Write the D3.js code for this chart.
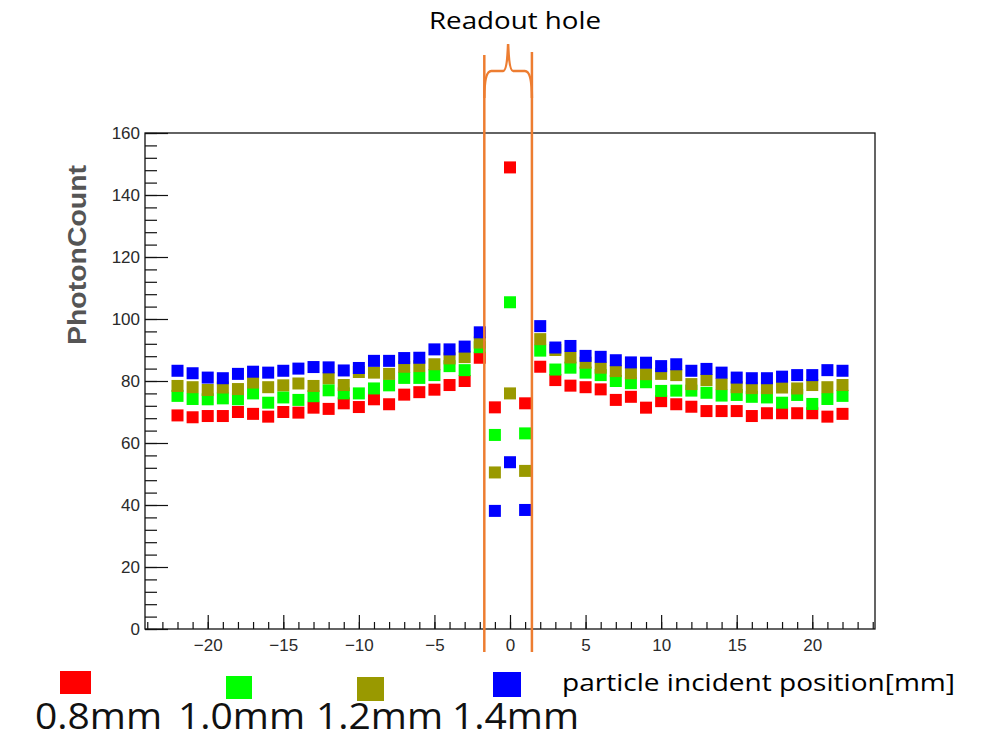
<!DOCTYPE html>
<html>
<head>
<meta charset="utf-8">
<script src="https://cdn.jsdelivr.net/npm/d3@7"></script>
<style>
  body { margin: 0; background: #fff; }
  svg { display: block; }
</style>
</head>
<body>
<div id="vis"></div>
<script>
// plot box (ROOT style frame)
const W = 986, H = 740;
const margin = { top: 133, right: 111, bottom: 111, left: 145 };
const width = W - margin.left - margin.right;
const height = H - margin.top - margin.bottom;

// incident positions [mm]
const positions = [-22, -21, -20, -19, -18, -17, -16, -15, -14, -13, -12, -11,
                   -10, -9, -8, -7, -6, -5, -4, -3, -2, -1, 0, 1,
                   2, 3, 4, 5, 6, 7, 8, 9, 10, 11, 12, 13, 14, 15, 16, 17, 18, 19, 20, 21, 22];

// photon counts, one array per fibre thickness
const red08 = [68.9, 68.3, 68.7, 68.7, 70.0, 69.4, 68.5, 70.0, 69.8, 71.4, 71.0, 72.8,
               71.6, 74.1, 72.5, 75.6, 76.4, 77.2, 78.7, 80.0, 87.5, 71.5, 148.9, 72.8,
               84.6, 80.3, 78.5, 78.0, 77.3, 73.9, 74.9, 71.4, 73.5, 72.5, 71.7, 70.3,
               70.3, 70.3, 68.7, 69.6, 69.6, 69.6, 69.6, 68.5, 69.4];
const green10 = [75.2, 74.2, 74.1, 74.4, 74.1, 76.0, 73.0, 74.7, 73.9, 75.1, 77.0, 76.0,
                 76.0, 77.6, 78.6, 81.0, 81.0, 81.9, 84.8, 83.5, 90.9, 62.6, 105.4, 63.1,
                 89.8, 83.7, 84.3, 82.7, 81.9, 80.0, 79.3, 79.6, 76.8, 76.9, 76.9, 76.2,
                 75.3, 75.5, 74.9, 74.7, 73.0, 75.5, 72.6, 74.2, 75.2];
const olive12 = [78.4, 78.0, 77.1, 77.9, 77.4, 79.5, 78.0, 78.6, 79.2, 78.4, 80.9, 78.7,
                 82.9, 82.7, 82.3, 84.6, 84.8, 85.4, 87.3, 87.7, 92.4, 50.5, 76.0, 51.0,
                 93.5, 90.0, 87.6, 85.9, 84.3, 83.2, 82.5, 82.2, 82.3, 81.9, 79.0, 80.3,
                 79.0, 78.0, 77.7, 77.7, 77.9, 77.6, 78.7, 78.0, 78.7];
const blue14 = [83.3, 82.5, 81.1, 80.9, 82.3, 83.0, 82.7, 83.3, 84.0, 84.5, 84.4, 83.4,
                84.2, 86.5, 86.5, 87.4, 87.5, 90.2, 90.2, 91.1, 95.7, 38.1, 53.8, 38.4,
                97.7, 90.8, 91.3, 88.1, 87.8, 86.7, 86.0, 85.9, 84.8, 85.4, 83.3, 83.9,
                82.7, 81.1, 80.9, 80.9, 81.4, 81.9, 81.9, 83.5, 83.3];

const seriesNames = ['0.8mm', '1.0mm', '1.2mm', '1.4mm'];
const seriesColors = ['#ff0000', '#00ff00', '#999900', '#0000ff'];
const seriesValues = [red08, green10, olive12, blue14];

// x and y tick labels
const xMajorTicks = [-20, -15, -10, -5, 0, 5, 10, 15, 20];
const yMajorTicks = [0, 20, 40, 60, 80, 100, 120, 140, 160];

// edges of the readout hole [mm]
const holeEdges = [-1.7, 1.45];

const svg = d3.select('#vis')
  .append('svg')
  .attr('width', W)
  .attr('height', H);

const g = svg.append('g')
  .attr('transform', `translate(${margin.left},${margin.top})`);

const xScale = d3.scaleLinear().domain([-24.15, 24.15]).range([0, width]);
const yScale = d3.scaleLinear().domain([0, 160]).range([height, 0]);

function drawAxes() {
  // minor x ticks every 1 mm
  g.append('g')
    .attr('transform', `translate(0,${height})`)
    .call(d3.axisBottom(xScale).tickValues(d3.range(-24, 25)).tickSizeInner(-7).tickSizeOuter(0).tickFormat(''))
    .call(a => a.select('.domain').remove());

  g.append('g')
    .attr('class', 'x-axis')
    .attr('transform', `translate(0,${height})`)
    .call(d3.axisBottom(xScale).tickValues(xMajorTicks).tickSizeInner(-14).tickSizeOuter(0).tickPadding(10))
    .call(a => a.select('.domain').remove());

  // minor y ticks every 4
  g.append('g')
    .call(d3.axisLeft(yScale).tickValues(d3.range(0, 161, 4)).tickSizeInner(-12).tickSizeOuter(0).tickFormat(''))
    .call(a => a.select('.domain').remove());

  g.append('g')
    .attr('class', 'y-axis')
    .call(d3.axisLeft(yScale).tickValues(yMajorTicks).tickSizeInner(-23).tickSizeOuter(0).tickPadding(5))
    .call(a => a.select('.domain').remove());

  g.selectAll('.tick line').attr('stroke', '#111').attr('stroke-width', 1.2);
  g.selectAll('.x-axis text, .y-axis text')
    .attr('font-family', 'Liberation Sans, Arial, sans-serif')
    .attr('font-size', 17)
    .attr('fill', '#2a2a2a');

  // frame
  g.append('rect')
    .attr('width', width)
    .attr('height', height)
    .attr('fill', 'none')
    .attr('stroke', '#111')
    .attr('stroke-width', 1.3);

  svg.append('text')
    .attr('transform', `translate(86,${margin.top + 122}) rotate(-90)`)
    .attr('text-anchor', 'middle')
    .attr('font-family', 'Liberation Sans, Arial, sans-serif')
    .attr('font-size', 26)
    .attr('font-weight', 'bold')
    .attr('textLength', 180)
    .attr('lengthAdjust', 'spacingAndGlyphs')
    .attr('fill', '#555')
    .text('PhotonCount');
}

function drawPoints() {
  const size = 12;
  seriesValues.forEach((vals, si) => {
    g.append('g').selectAll('rect')
      .data(vals.map((v, i) => ({ x: positions[i], y: v })))
      .join('rect')
      .attr('x', d => xScale(d.x) - size / 2)
      .attr('y', d => yScale(d.y) - size / 2)
      .attr('width', size)
      .attr('height', size)
      .attr('fill', seriesColors[si]);
  });
}

function drawHole() {
  const orange = '#ed7d31';
  const L = margin.left + xScale(holeEdges[0]);
  const R = margin.left + xScale(holeEdges[1]);
  const M = (L + R) / 2;

  holeEdges.forEach((e, i) => {
    svg.append('line')
      .attr('x1', margin.left + xScale(e)).attr('x2', margin.left + xScale(e))
      .attr('y1', i === 0 ? 55 : 52).attr('y2', 652)
      .attr('stroke', orange)
      .attr('stroke-width', 2.5);
  });

  // curly brace over the hole
  const p = d3.path();
  p.moveTo(L, 98);
  p.quadraticCurveTo(L, 71, L + 7, 71);
  p.lineTo(M - 5, 71);
  p.quadraticCurveTo(M - 1, 71, M, 44);
  p.quadraticCurveTo(M + 1, 71, M + 5, 71);
  p.lineTo(R - 7, 71);
  p.quadraticCurveTo(R, 71, R, 98);
  svg.append('path')
    .attr('d', p.toString())
    .attr('fill', 'none')
    .attr('stroke', orange)
    .attr('stroke-width', 2.5);

  svg.append('text')
    .attr('x', 515).attr('y', 29)
    .attr('text-anchor', 'middle')
    .attr('font-family', 'Open Sans, Noto Sans, sans-serif')
    .attr('font-size', 23)
    .attr('textLength', 172)
    .attr('lengthAdjust', 'spacingAndGlyphs')
    .attr('fill', '#000')
    .text('Readout hole');
}

function drawLegend() {
  const boxes = [
    { x: 60, y: 671, w: 31, h: 23 },
    { x: 226, y: 676, w: 26, h: 23 },
    { x: 357, y: 677, w: 27, h: 24 },
    { x: 493, y: 672, w: 28, h: 25 }
  ];
  const labelX = [35, 178, 316, 452];

  seriesNames.forEach((name, i) => {
    svg.append('rect')
      .attr('x', boxes[i].x).attr('y', boxes[i].y)
      .attr('width', boxes[i].w).attr('height', boxes[i].h)
      .attr('fill', seriesColors[i]);

    // tall, narrow labels like the reference
    svg.append('text')
      .attr('transform', `translate(${labelX[i]},729) scale(1,1.18)`)
      .attr('font-family', 'Liberation Sans Narrow, Open Sans, sans-serif')
      .attr('font-size', 31)
      .attr('textLength', 127)
      .attr('lengthAdjust', 'spacingAndGlyphs')
      .attr('fill', '#111')
      .text(name);
  });

  svg.append('text')
    .attr('x', 562).attr('y', 691)
    .attr('font-family', 'Open Sans, Noto Sans, sans-serif')
    .attr('font-size', 24)
    .attr('textLength', 393)
    .attr('lengthAdjust', 'spacingAndGlyphs')
    .attr('fill', '#000')
    .text('particle incident position[mm]');
}

drawAxes();
drawPoints();
drawHole();
drawLegend();
</script>
</body>
</html>
